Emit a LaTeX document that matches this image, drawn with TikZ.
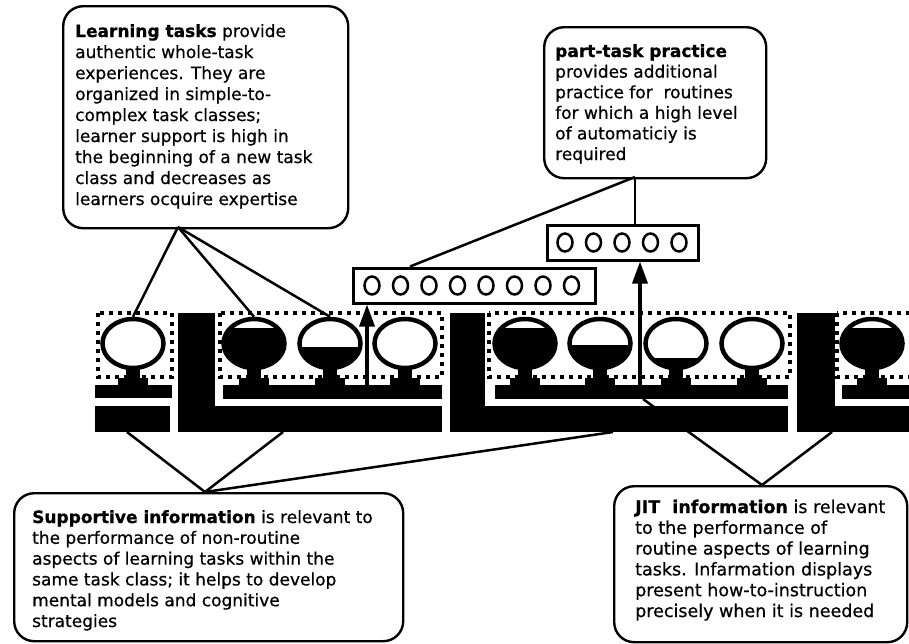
\documentclass[tikz,border=0pt]{standalone}
\usepackage{fontspec}
\setmainfont{DejaVu Sans}[UprightFeatures={FakeBold=0.6}, BoldFeatures={FakeBold=0.8}]
\usetikzlibrary{shapes.geometric,arrows.meta}
\begin{document}
\begin{tikzpicture}[x=1pt,y=-1pt,
  callout/.style={draw, line width=2.4pt, rounded corners=20pt, inner sep=0pt, anchor=north west},
  txt/.style={align=left, inner sep=0pt, anchor=base west, font=\fontsize{17}{21}\selectfont},
  dotbox/.style={draw, line width=4pt, dash pattern=on 4pt off 5pt},
  bulb/.style={ellipse, draw, line width=4.5pt, fill=white, minimum width=61pt, minimum height=49pt, inner sep=0pt},
  lvl/.style={path picture={\fill[black] (path picture bounding box.south west) rectangle ([yshift=-#1]path picture bounding box.north east);}},
  conn/.style={line width=2.5pt},
  slot/.style={ellipse, draw, line width=2.5pt, minimum width=15pt, minimum height=18pt, inner sep=0pt},
  seqbox/.style={draw, line width=3pt, inner sep=0pt, fill=white},
  uparrow/.style={line width=3.5pt, -{Triangle[length=22pt,width=15pt]}}
]
\useasboundingbox (0,0) rectangle (909,643);
\clip (0,0) rectangle (909,643);
\fill[white] (0,0) rectangle (909,643);

% dotted task-class frames
\draw[dotbox] (98,313) rectangle (172,377);
\draw[dotbox] (220,313) rectangle (442,377);
\draw[dotbox] (489,313) rectangle (790,377);
\draw[dotbox] (837,313) rectangle (940,377);

% black bars and L shapes
\fill (95,385) rectangle (172,398);
\fill (95,406) rectangle (170,432);
\fill (178,313) rectangle (215,432);
\fill (178,406) rectangle (442,432);
\fill (223,385) rectangle (442,399);
\fill (450,313) rectangle (485,432);
\fill (450,406) rectangle (788,432);
\fill (495,385) rectangle (788,399);
\fill (797,313) rectangle (835,432);
\fill (797,406) rectangle (920,432);
\fill (842,385) rectangle (920,399);

% pedestals
\foreach \x in {133,254,330,405,525,600,676,752,872}{
  \fill (\x-7,365) rectangle (\x+7,386);
  \fill (\x-15,378) rectangle (\x+15,386);
}

% learning tasks (bulbs)
\node[bulb] (c1) at (133,343.5) {};
\node[bulb, lvl=9pt] (c2) at (254,343.5) {};
\node[bulb, lvl=28pt] (c3) at (330,343.5) {};
\node[bulb] (c4) at (405,343.5) {};
\node[bulb, lvl=9pt] (c5) at (525,343.5) {};
\node[bulb, lvl=26pt] (c6) at (600,343.5) {};
\node[bulb, lvl=39pt] (c7) at (676,343.5) {};
\node[bulb] (c8) at (752,343.5) {};
\node[bulb, lvl=9pt] (c9) at (872,343.5) {};

% part-task practice sequences
\node[seqbox, minimum width=242pt, minimum height=35pt] (b8) at (474,285.5) {};
\foreach \i in {0,...,7}{ \node[slot] (s8\i) at (372+28.5*\i,285.5) {}; }
\node[seqbox, minimum width=151pt, minimum height=35pt] (b5) at (622.5,242.5) {};
\foreach \i in {0,...,4}{ \node[slot] (s5\i) at (565+28.5*\i,242.5) {}; }

% arrows from bars to sequences
\coordinate (a1) at (367,386);
\coordinate (a2) at (640,386);
\draw[uparrow] (a1) -- (a1 |- b8.south);
\draw[uparrow] (a2) -- (a2 |- b5.south);

% callouts
\node[callout, minimum width=285pt, minimum height=222pt] (tl) at (62,5) {};
\node[callout, minimum width=222pt, minimum height=151pt] (pt) at (543,26) {};
\node[callout, minimum width=389pt, minimum height=148pt] (sup) at (13,492) {};
\node[callout, minimum width=293pt, minimum height=156pt] (jit) at (613,485) {};

% texts (anchored at the baseline of their last line)
\node[txt] (tltext) at (75,205) {\textbf{Learning tasks} provide\\authentic whole-task\\experiences. They are\\organized in simple-to-\\complex task classes;\\learner support is high in\\the beginning of a new task\\class and decreases as\\learners ocquire expertise};
\node[txt, font=\fontsize{17}{20.6}\selectfont] (pttext) at (555,160) {\textbf{part-task practice}\\provides additional\\practice for\ \ routines\\for which a high level\\of automaticiy is\\required};
\node[txt, font=\fontsize{17}{20.8}\selectfont] (suptext) at (32,627) {\textbf{Supportive information} is relevant to\\the performance of non-routine\\aspects of learning tasks within the\\same task class; it helps to develop\\mental models and cognitive\\strategies};
\node[txt, font=\fontsize{17.5}{20.8}\selectfont] (jittext) at (635,617) {\textbf{JIT\ \ information} is relevant\\to the performance of\\routine aspects of learning\\tasks. Infarmation displays\\present how-to-instruction\\precisely when it is needed};

% apexes and connector ends
\coordinate (tla) at (178,227);
\coordinate (pta) at (635,177);
\coordinate (supa) at (205,492);
\coordinate (jita) at (762,485);
\coordinate (e1) at (127,432);
\coordinate (e2) at (283,432);
\coordinate (e3) at (613,432);
\coordinate (e4) at (643,399);
\coordinate (e5) at (832,432);

\draw[conn] (tla) -- (c1.north);
\draw[conn] (tla) -- (c2.north);
\draw[conn] (tla) -- (c3.north);
\draw[conn] (pta) -- (pta |- b5.north);
\draw[conn] (pta) -- ([xshift=-64pt]b8.north);
\draw[conn] (supa) -- (e1);
\draw[conn] (supa) -- (e2);
\draw[conn] (supa) -- (e3);
\draw[conn] (jita) -- (e4);
\draw[conn] (jita) -- (e5);
\end{tikzpicture}
\end{document}
